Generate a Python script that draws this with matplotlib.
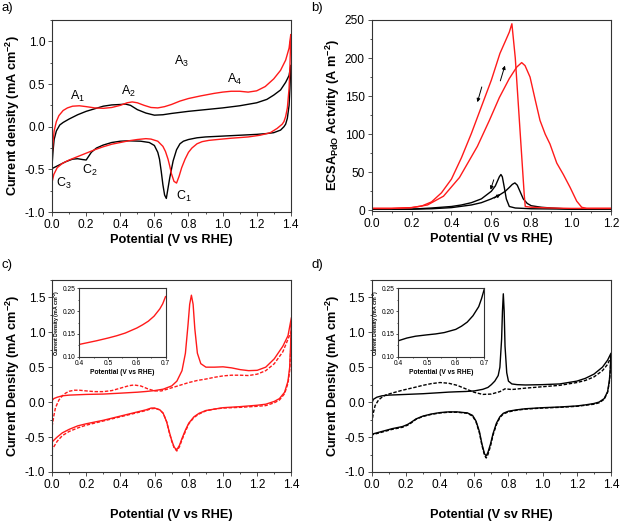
import numpy as np
import matplotlib
matplotlib.use('Agg')
import matplotlib.pyplot as plt
from matplotlib.ticker import MultipleLocator

plt.rcParams['font.family'] = ['Liberation Sans', 'DejaVu Sans']
plt.rcParams['mathtext.fontset'] = 'custom'
plt.rcParams['mathtext.rm'] = 'Liberation Sans'
plt.rcParams['mathtext.bf'] = 'Liberation Sans:bold'
plt.rcParams['mathtext.default'] = 'regular'
plt.rcParams['axes.unicode_minus'] = False

RED = '#ff1a1a'

# ---- panel a: CVs (black / red) ----
a_blk_fwd_v = [0.0, 0.005, 0.012, 0.025, 0.045, 0.065, 0.1, 0.15, 0.2, 0.25, 0.3, 0.35, 0.4, 0.43, 0.46,
               0.5, 0.55, 0.6, 0.65, 0.7, 0.8, 0.9, 1.0, 1.1, 1.2, 1.26, 1.3, 1.34, 1.37, 1.39, 1.4]
a_blk_fwd_j = [-0.45, -0.30, -0.15, -0.05, 0.02, 0.05, 0.09, 0.14, 0.18, 0.21, 0.24, 0.255, 0.26, 0.265, 0.25,
               0.20, 0.16, 0.135, 0.14, 0.155, 0.18, 0.20, 0.22, 0.245, 0.28, 0.32, 0.37, 0.43, 0.52, 0.6, 0.72]
a_blk_rev_v = [1.4, 1.395, 1.39, 1.38, 1.37, 1.36, 1.34, 1.3, 1.26, 1.2, 1.1, 1.0, 0.9, 0.85, 0.8, 0.77, 0.75,
               0.73, 0.71, 0.69, 0.68, 0.67, 0.66, 0.65, 0.64, 0.63, 0.62, 0.6, 0.57, 0.52, 0.45, 0.4, 0.35,
               0.3, 0.26, 0.23, 0.21, 0.2, 0.18, 0.15, 0.12, 0.08, 0.04, 0.0]
a_blk_rev_j = [0.72, 0.45, 0.25, 0.1, 0.03, 0.0, -0.04, -0.07, -0.08, -0.09, -0.10, -0.11, -0.12, -0.13, -0.15,
               -0.17, -0.2, -0.27, -0.4, -0.6, -0.72, -0.84, -0.8, -0.68, -0.52, -0.38, -0.3, -0.22, -0.185,
               -0.17, -0.165, -0.17, -0.185, -0.215, -0.25, -0.3, -0.36, -0.39, -0.385, -0.375, -0.38, -0.41,
               -0.45, -0.49]
a_red_fwd_v = [0.0, 0.005, 0.012, 0.025, 0.04, 0.065, 0.09, 0.12, 0.16, 0.2, 0.25, 0.3, 0.35, 0.4, 0.44, 0.47,
               0.5, 0.54, 0.58, 0.62, 0.66, 0.7, 0.75, 0.8, 0.87, 0.95, 1.0, 1.05, 1.1, 1.15, 1.2, 1.25, 1.3,
               1.34, 1.37, 1.39, 1.4]
a_red_fwd_j = [-0.35, -0.2, -0.05, 0.06, 0.13, 0.19, 0.22, 0.24, 0.245, 0.235, 0.22, 0.215, 0.225, 0.25, 0.28,
               0.29, 0.28, 0.25, 0.225, 0.22, 0.235, 0.26, 0.3, 0.33, 0.36, 0.39, 0.405, 0.415, 0.415, 0.405,
               0.42, 0.47, 0.56, 0.66, 0.78, 0.92, 1.08]
a_red_rev_v = [1.4, 1.395, 1.39, 1.38, 1.37, 1.36, 1.35, 1.32, 1.28, 1.22, 1.15, 1.05, 0.97, 0.92, 0.88, 0.85,
               0.82, 0.8, 0.78, 0.76, 0.745, 0.73, 0.715, 0.7, 0.69, 0.68, 0.665, 0.65, 0.62, 0.58, 0.55, 0.5,
               0.45, 0.4, 0.35, 0.3, 0.25, 0.2, 0.15, 0.1, 0.06, 0.03, 0.01, 0.0]
a_red_rev_j = [1.08, 0.7, 0.45, 0.22, 0.12, 0.06, 0.03, -0.02, -0.07, -0.1, -0.12, -0.135, -0.15, -0.16, -0.175,
               -0.2, -0.25, -0.3, -0.38, -0.48, -0.58, -0.66, -0.64, -0.55, -0.46, -0.38, -0.29, -0.23, -0.17,
               -0.145, -0.14, -0.15, -0.165, -0.185, -0.205, -0.235, -0.27, -0.31, -0.35, -0.39, -0.43, -0.48,
               -0.56, -0.65]
a_peak_labels = ['A$_1$', 'A$_2$', 'A$_3$', 'A$_4$', 'C$_1$', 'C$_2$', 'C$_3$']
a_peak_v = [0.15, 0.45, 0.76, 1.07, 0.77, 0.22, 0.07]
a_peak_j = [0.36, 0.41, 0.76, 0.55, -0.82, -0.51, -0.67]

# ---- panel b: ECSA-normalised activity ----
b_red_fwd_v = [0.0, 0.1, 0.2, 0.28, 0.36, 0.44, 0.53, 0.59, 0.64, 0.69, 0.727, 0.752, 0.769, 0.794, 0.82,
               0.844, 0.87, 0.894, 0.928, 0.961, 0.995, 1.028, 1.053, 1.078, 1.2]
b_red_fwd_j = [2.5, 2.5, 3.5, 7, 18.5, 43, 84, 118, 148, 173, 188, 194, 190, 175, 145, 118, 100, 87, 62,
               47, 30, 12, 4, 2.5, 2.5]
b_red_rev_v = [1.2, 1.1, 1.0, 0.9, 0.8, 0.77, 0.765, 0.755, 0.745, 0.735, 0.72, 0.703, 0.69, 0.67, 0.643,
               0.6, 0.55, 0.5, 0.45, 0.4, 0.35, 0.3, 0.25, 0.2, 0.15, 0.1, 0.0]
b_red_rev_j = [2.5, 2.5, 2.5, 3, 4, 5, 20, 60, 100, 140, 200, 245, 234, 222, 206, 171, 136, 101, 69, 41, 23,
               11, 5.5, 3.5, 3, 2.5, 2.5]
b_blk_fwd_v = [0.0, 0.2, 0.3, 0.4, 0.5, 0.55, 0.6, 0.64, 0.67, 0.69, 0.705, 0.718, 0.73, 0.745, 0.76, 0.78,
               0.8, 0.85, 0.9, 1.0, 1.2]
b_blk_fwd_j = [1.5, 1.5, 2, 3.5, 7, 10, 15, 20, 25, 30, 34, 36, 33, 24, 15, 9, 6, 4, 3, 1.5, 1.5]
b_blk_rev_v = [1.2, 1.0, 0.8, 0.72, 0.69, 0.675, 0.665, 0.655, 0.648, 0.64, 0.63, 0.62, 0.6, 0.55, 0.5, 0.45,
               0.4, 0.3, 0.2, 0.0]
b_blk_rev_j = [1.5, 1.5, 2, 3, 5, 15, 30, 44, 47, 44, 38, 32, 25, 15, 10, 7, 5, 3, 1.5, 1.5]

# ---- panel c: red solid / dashed CVs ----
c_sol_fwd_v = [0.0, 0.01, 0.03, 0.06, 0.1, 0.2, 0.3, 0.4, 0.5, 0.55, 0.6, 0.65, 0.7, 0.73, 0.76, 0.78, 0.795,
               0.805, 0.815, 0.825, 0.835, 0.85, 0.87, 0.9, 0.95, 1.0, 1.05, 1.1, 1.15, 1.2, 1.25, 1.3, 1.35,
               1.38, 1.4]
c_sol_fwd_j = [0.02, 0.05, 0.07, 0.09, 0.10, 0.11, 0.115, 0.128, 0.142, 0.152, 0.165, 0.185, 0.232, 0.3, 0.45,
               0.7, 1.1, 1.4, 1.53, 1.4, 1.05, 0.7, 0.55, 0.5, 0.5, 0.505, 0.49, 0.465, 0.45, 0.455, 0.5, 0.62,
               0.8, 0.95, 1.21]
c_dsh_fwd_v = [0.0, 0.01, 0.02, 0.04, 0.06, 0.08, 0.1, 0.13, 0.16, 0.2, 0.25, 0.3, 0.35, 0.4, 0.45, 0.48, 0.52,
               0.56, 0.6, 0.64, 0.68, 0.72, 0.76, 0.8, 0.85, 0.9, 0.95, 1.0, 1.05, 1.1, 1.15, 1.2, 1.25, 1.3,
               1.35, 1.4]
c_dsh_fwd_j = [-0.35, -0.2, -0.08, 0.03, 0.09, 0.13, 0.155, 0.17, 0.17, 0.16, 0.15, 0.15, 0.165, 0.2, 0.235,
               0.245, 0.23, 0.19, 0.16, 0.16, 0.19, 0.22, 0.25, 0.28, 0.31, 0.33, 0.355, 0.375, 0.385, 0.385,
               0.38, 0.4, 0.45, 0.55, 0.72, 1.02]
c_rev_v = [1.4, 1.395, 1.39, 1.38, 1.36, 1.33, 1.3, 1.25, 1.2, 1.1, 1.0, 0.95, 0.9, 0.86, 0.83, 0.8, 0.78,
           0.76, 0.745, 0.73, 0.715, 0.7, 0.685, 0.67, 0.65, 0.63, 0.6, 0.58, 0.55, 0.5, 0.45, 0.4, 0.3, 0.2,
           0.15, 0.1, 0.06, 0.03, 0.0]
c_sol_rev_j = [1.21, 0.8, 0.5, 0.3, 0.14, 0.05, 0.01, -0.03, -0.045, -0.065, -0.08, -0.1, -0.12, -0.16, -0.21,
               -0.3, -0.4, -0.52, -0.62, -0.68, -0.65, -0.55, -0.42, -0.28, -0.16, -0.11, -0.085, -0.085, -0.11,
               -0.14, -0.17, -0.2, -0.26, -0.31, -0.34, -0.39, -0.44, -0.5, -0.57]
c_dsh_rev_j = [1.02, 0.7, 0.45, 0.27, 0.12, 0.03, -0.01, -0.05, -0.06, -0.075, -0.085, -0.1, -0.125, -0.17,
               -0.22, -0.31, -0.42, -0.54, -0.64, -0.70, -0.66, -0.56, -0.43, -0.28, -0.16, -0.11, -0.09, -0.095,
               -0.12, -0.15, -0.18, -0.21, -0.27, -0.33, -0.37, -0.42, -0.48, -0.56, -0.68]
c_ins_v = [0.40, 0.43, 0.46, 0.5, 0.53, 0.56, 0.6, 0.62, 0.64, 0.66, 0.68, 0.69, 0.7]
c_ins_j = [0.127, 0.131, 0.135, 0.141, 0.146, 0.152, 0.163, 0.170, 0.178, 0.189, 0.205, 0.216, 0.232]

# ---- panel d: black solid / dashed CVs ----
d_sol_fwd_v = [0.0, 0.01, 0.03, 0.06, 0.1, 0.2, 0.3, 0.4, 0.45, 0.5, 0.55, 0.6, 0.65, 0.68, 0.7, 0.72, 0.74,
               0.75, 0.76, 0.765, 0.77, 0.775, 0.78, 0.79, 0.8, 0.82, 0.85, 0.9, 1.0, 1.1, 1.2, 1.25, 1.3, 1.35,
               1.38, 1.4]
d_sol_fwd_j = [-0.02, 0.04, 0.07, 0.09, 0.10, 0.11, 0.12, 0.135, 0.143, 0.148, 0.152, 0.16, 0.183, 0.21, 0.25,
               0.3, 0.38, 0.5, 0.9, 1.3, 1.55, 1.3, 0.8, 0.42, 0.3, 0.26, 0.25, 0.245, 0.25, 0.26, 0.3, 0.34,
               0.4, 0.5, 0.6, 0.7]
d_dsh_fwd_v = [0.0, 0.01, 0.02, 0.04, 0.06, 0.08, 0.12, 0.18, 0.25, 0.3, 0.35, 0.4, 0.45, 0.5, 0.55, 0.6, 0.65,
               0.7, 0.75, 0.78, 0.82, 0.9, 1.0, 1.1, 1.2, 1.25, 1.3, 1.35, 1.38, 1.4]
d_dsh_fwd_j = [-0.3, -0.15, -0.05, 0.03, 0.07, 0.1, 0.13, 0.17, 0.21, 0.24, 0.265, 0.28, 0.27, 0.24, 0.19, 0.14,
               0.11, 0.115, 0.15, 0.19, 0.18, 0.2, 0.22, 0.24, 0.28, 0.31, 0.36, 0.45, 0.54, 0.65]
d_rev_v = [1.4, 1.395, 1.39, 1.38, 1.36, 1.33, 1.3, 1.25, 1.2, 1.1, 1.0, 0.9, 0.85, 0.8, 0.77, 0.75, 0.73,
           0.71, 0.695, 0.68, 0.67, 0.66, 0.645, 0.63, 0.61, 0.59, 0.56, 0.5, 0.45, 0.4, 0.35, 0.3, 0.26, 0.23,
           0.21, 0.18, 0.12, 0.06, 0.0]
d_sol_rev_j = [0.7, 0.45, 0.3, 0.15, 0.05, 0.0, -0.02, -0.04, -0.055, -0.07, -0.08, -0.095, -0.11, -0.13, -0.16,
               -0.21, -0.3, -0.45, -0.6, -0.72, -0.77, -0.74, -0.6, -0.42, -0.27, -0.19, -0.155, -0.14, -0.14,
               -0.15, -0.17, -0.2, -0.24, -0.29, -0.32, -0.35, -0.38, -0.42, -0.46]
d_dsh_rev_j = [0.65, 0.42, 0.28, 0.14, 0.04, -0.01, -0.03, -0.045, -0.06, -0.075, -0.085, -0.1, -0.115, -0.14,
               -0.17, -0.22, -0.32, -0.47, -0.63, -0.75, -0.8, -0.76, -0.62, -0.44, -0.28, -0.2, -0.16, -0.145,
               -0.145, -0.155, -0.175, -0.205, -0.245, -0.3, -0.33, -0.36, -0.39, -0.43, -0.47]
d_ins_v = [0.40, 0.43, 0.46, 0.5, 0.53, 0.56, 0.6, 0.62, 0.64, 0.66, 0.68, 0.69, 0.7]
d_ins_j = [0.135, 0.141, 0.145, 0.148, 0.150, 0.153, 0.160, 0.167, 0.176, 0.190, 0.210, 0.228, 0.25]


def loop(fv, fj, rv, rj):
    # forward sweep, reverse sweep, closed at 0 V
    return np.r_[fv, rv, fv[:1]], np.r_[fj, rj, fj[:1]]


def style(ax, fs=8.6, tl=3.0):
    for s in ax.spines.values():
        s.set_color('#333333')
        s.set_linewidth(0.8)
    ax.tick_params(which='both', direction='out', top=False, right=False, labelsize=fs,
                   width=0.6, color='#333333', pad=2)
    ax.tick_params(which='major', length=tl)
    ax.tick_params(which='minor', length=tl * 0.6)


fig = plt.figure(figsize=(6.2, 5.25), dpi=100)
lab_kw = dict(fontsize=9.2, fontweight='bold')

# a)
ax = fig.add_axes([0.084, 0.596, 0.385, 0.366])
x, y = loop(a_blk_fwd_v, a_blk_fwd_j, a_blk_rev_v, a_blk_rev_j)
ax.plot(x, y, color='black', lw=1.0)
x, y = loop(a_red_fwd_v, a_red_fwd_j, a_red_rev_v, a_red_rev_j)
ax.plot(x, y, color=RED, lw=1.0)
for t, px, py in zip(a_peak_labels, a_peak_v, a_peak_j):
    ax.text(px, py, t, fontsize=9, ha='center', va='center')
ax.set_xlim(0, 1.4)
ax.set_ylim(-1.0, 1.25)
ax.xaxis.set_major_locator(MultipleLocator(0.2))
ax.xaxis.set_minor_locator(MultipleLocator(0.1))
ax.yaxis.set_major_locator(MultipleLocator(0.5))
ax.yaxis.set_minor_locator(MultipleLocator(0.25))
ax.set_xlabel('Potential (V vs RHE)', labelpad=2, **lab_kw)
ax.set_ylabel('Current density (mA cm$^{-2}$)', labelpad=2, **lab_kw)
style(ax)

# b)
ax = fig.add_axes([0.5995, 0.598, 0.386, 0.364])
ax.plot(b_blk_fwd_v, b_blk_fwd_j, color='black', lw=1.0)
ax.plot(b_blk_rev_v, b_blk_rev_j, color='black', lw=1.0)
ax.plot(b_red_fwd_v, b_red_fwd_j, color=RED, lw=1.0)
ax.plot(b_red_rev_v, b_red_rev_j, color=RED, lw=1.0)
arr = dict(arrowstyle='-|>', color='black', lw=0.7, mutation_scale=5, shrinkA=0, shrinkB=0)
ax.annotate('', xy=(0.530, 142), xytext=(0.552, 162), arrowprops=arr)
ax.annotate('', xy=(0.668, 190), xytext=(0.645, 170), arrowprops=arr)
ax.annotate('', xy=(0.596, 27), xytext=(0.612, 40), arrowprops=arr)
ax.annotate('', xy=(0.645, 21), xytext=(0.615, 16), arrowprops=arr)
ax.set_xlim(0, 1.2)
ax.set_ylim(-1, 250)
ax.xaxis.set_major_locator(MultipleLocator(0.2))
ax.xaxis.set_minor_locator(MultipleLocator(0.1))
ax.yaxis.set_major_locator(MultipleLocator(50))
ax.yaxis.set_minor_locator(MultipleLocator(25))
ax.set_xlabel('Potential (V vs RHE)', labelpad=2, **lab_kw)
ax.set_ylabel('ECSA$_{PdO}$ Actviity (A m$^{-2}$)', labelpad=2, **lab_kw)
style(ax)

# c) and d)
for left, col, sfv, sfj, dfv, dfj, rv, srj, drj, iv, ij, xl, inl in [
        (0.084, RED, c_sol_fwd_v, c_sol_fwd_j, c_dsh_fwd_v, c_dsh_fwd_j, c_rev_v, c_sol_rev_j, c_dsh_rev_j,
         c_ins_v, c_ins_j, 'Potential (V vs RHE)', 0.128),
        (0.5995, 'black', d_sol_fwd_v, d_sol_fwd_j, d_dsh_fwd_v, d_dsh_fwd_j, d_rev_v, d_sol_rev_j, d_dsh_rev_j,
         d_ins_v, d_ins_j, 'Potential (V sv RHE)', 0.6424)]:
    ax = fig.add_axes([left, 0.101, 0.386, 0.366])
    x, y = loop(dfv, dfj, rv, drj)
    ax.plot(x, y, color=col, lw=1.0, ls=(0, (2.5, 1.2)))
    x, y = loop(sfv, sfj, rv, srj)
    ax.plot(x, y, color=col, lw=1.0)
    ax.set_xlim(0, 1.4)
    ax.set_ylim(-1.0, 1.75)
    ax.xaxis.set_major_locator(MultipleLocator(0.2))
    ax.xaxis.set_minor_locator(MultipleLocator(0.1))
    ax.yaxis.set_major_locator(MultipleLocator(0.5))
    ax.yaxis.set_minor_locator(MultipleLocator(0.25))
    ax.set_xlabel(xl, labelpad=13, **lab_kw)
    ax.set_ylabel('Current Density (mA cm$^{-2}$)', labelpad=2, **lab_kw)
    style(ax)

    ins = fig.add_axes([inl, 0.3206, 0.139, 0.130])
    ins.plot(iv, ij, color=col, lw=1.0)
    ins.set_xlim(0.4, 0.7)
    ins.set_ylim(0.10, 0.25)
    ins.set_xticks([0.4, 0.5, 0.6, 0.7])
    ins.set_yticks([0.10, 0.15, 0.20, 0.25])
    ins.set_xticklabels(['0.4', '0.5', '0.6', '0.7'])
    ins.set_yticklabels(['0.10', '0.15', '0.20', '0.25'])
    ins.xaxis.set_minor_locator(MultipleLocator(0.05))
    ins.yaxis.set_minor_locator(MultipleLocator(0.025))
    ins.set_xlabel('Potential (V vs RHE)', fontsize=4.8, fontweight='bold', labelpad=1)
    ins.set_ylabel('Current Density (mA cm$^{-2}$)', fontsize=3.7, fontweight='bold', labelpad=1)
    style(ins, fs=4.8, tl=1.5)
    ins.tick_params(pad=1)

for t, fx, fy in [('a)', 0.002, 0.984), ('b)', 0.502, 0.984), ('c)', 0.002, 0.496), ('d)', 0.502, 0.496)]:
    fig.text(fx, fy, t, fontsize=9.5, ha='left', va='center')

fig.savefig('out.png', dpi=100)
